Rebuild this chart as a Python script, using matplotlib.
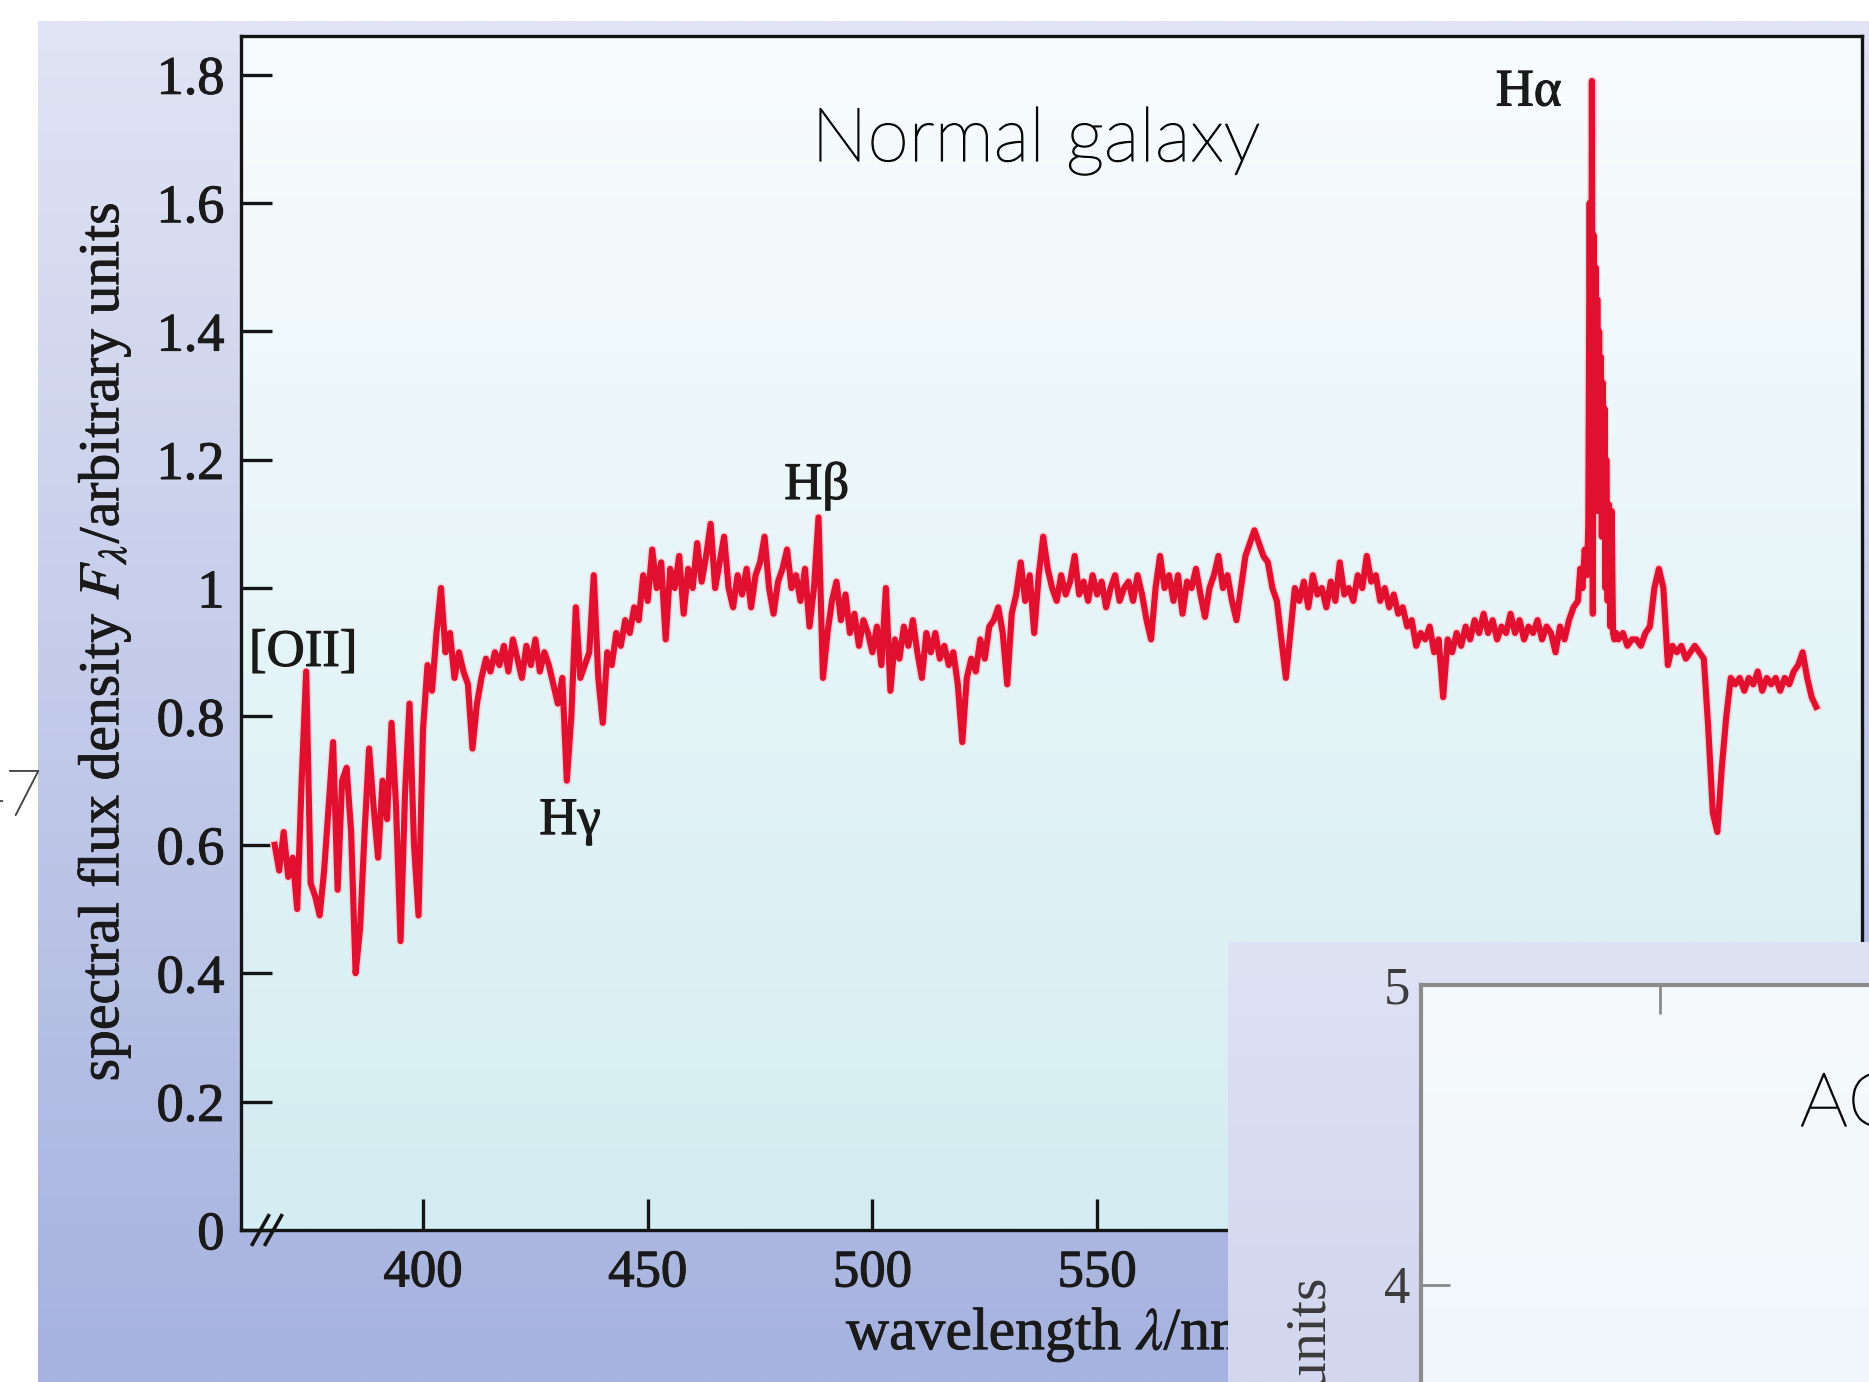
import numpy as np
import matplotlib
matplotlib.use("Agg")
import matplotlib.pyplot as plt
import matplotlib.patheffects as pe
from matplotlib.colors import to_rgb

# ---------------- data ----------------
# galaxy spectrum, 1 nm steps from 367 nm to 656 nm
wl_blue_start = 367
flux_blue = [
    0.60, 0.56, 0.62, 0.55, 0.58, 0.50, 0.70, 0.87, 0.54, 0.52,   # 367-376
    0.49, 0.56, 0.66, 0.76, 0.53, 0.70, 0.72, 0.62, 0.40, 0.47,   # 377-386
    0.62, 0.75, 0.66, 0.58, 0.70, 0.64, 0.79, 0.66, 0.45, 0.68,   # 387-396
    0.82, 0.60, 0.49, 0.78, 0.88, 0.84, 0.93, 1.00, 0.90, 0.93,   # 397-406
    0.86, 0.90, 0.87, 0.85, 0.75, 0.82, 0.86, 0.89, 0.87, 0.90,   # 407-416
    0.88, 0.91, 0.87, 0.92, 0.89, 0.86, 0.91, 0.88, 0.92, 0.87,   # 417-426
    0.90, 0.88, 0.85, 0.82, 0.86, 0.70, 0.80, 0.97, 0.86, 0.88,   # 427-436
    0.90, 1.02, 0.86, 0.79, 0.90, 0.88, 0.93, 0.91, 0.95, 0.93,   # 437-446
    0.97, 0.95, 1.02, 0.98, 1.06, 1.00, 1.04, 0.92, 1.03, 1.00,   # 447-456
    1.05, 0.96, 1.03, 1.00, 1.07, 1.01, 1.05, 1.10, 1.00, 1.04,   # 457-466
    1.08, 1.00, 0.97, 1.02, 0.99, 1.03, 0.97, 1.02, 1.04, 1.08,   # 467-476
    1.00, 0.96, 1.01, 1.03, 1.06, 1.00, 1.02, 0.98, 1.03, 0.94,   # 477-486
    1.00, 1.11, 0.86, 0.93, 0.98, 1.01, 0.95, 0.99, 0.93, 0.96,   # 487-496
    0.91, 0.95, 0.93, 0.90, 0.94, 0.88, 1.00, 0.84, 0.92, 0.89,   # 497-506
    0.94, 0.91, 0.95, 0.90, 0.86, 0.93, 0.90, 0.93, 0.89, 0.91,   # 507-516
    0.88, 0.90, 0.85, 0.76, 0.86, 0.89, 0.87, 0.92, 0.89, 0.94,   # 517-526
    0.95, 0.97, 0.93, 0.85, 0.96, 0.99, 1.04, 0.98, 1.02, 0.93,   # 527-536
    1.02, 1.08, 1.03, 1.00, 0.98, 1.02, 0.99, 1.01, 1.05, 0.99,   # 537-546
    1.01, 0.98, 1.02, 0.99, 1.01, 0.97, 1.00, 1.02, 0.98, 1.00,   # 547-556
    1.01, 0.98, 1.02, 0.99, 0.95, 0.92, 1.00, 1.05, 1.00, 1.02,   # 557-566
    0.98, 1.02, 0.96, 1.01, 1.00, 1.03, 0.99, 0.955, 1.00, 1.02,  # 567-576
    1.05, 1.00, 1.02, 0.98, 0.95, 1.00, 1.05, 1.07, 1.09, 1.07,   # 577-586
    1.05, 1.04, 1.00, 0.98, 0.92, 0.86, 0.93, 1.00, 0.98, 1.01,   # 587-596
    0.97, 1.02, 0.99, 1.00, 0.97, 1.01, 0.98, 1.04, 0.99, 1.00,   # 597-606
    0.98, 1.02, 1.00, 1.05, 1.01, 1.02, 0.98, 1.00, 0.97, 0.99,   # 607-616
    0.96, 0.97, 0.94, 0.95, 0.91, 0.93, 0.92, 0.94, 0.90, 0.92,   # 617-626
    0.83, 0.92, 0.90, 0.93, 0.91, 0.94, 0.92, 0.95, 0.93, 0.96,   # 627-636
    0.93, 0.95, 0.92, 0.94, 0.93, 0.96, 0.93, 0.95, 0.92, 0.94,   # 637-646
    0.93, 0.95, 0.92, 0.94, 0.93, 0.90, 0.94, 0.92, 0.95, 0.97,   # 647-656
]

# H-alpha region (finer sampling)
wl_halpha = [657.0, 657.5, 658.0, 658.5, 659.0, 659.3, 659.6, 659.9, 660.1, 660.3,
             660.5, 660.7, 660.9, 661.1, 661.3, 661.5, 661.7, 661.9, 662.1, 662.3,
             662.5, 662.7, 662.9, 663.1, 663.3, 663.6, 663.9, 664.2, 664.5, 664.8,
             665.1, 665.5]
flux_halpha = [0.98, 1.03, 1.00, 1.06, 1.02, 1.10, 1.60, 1.08, 1.79, 0.96,
               1.55, 1.12, 1.50, 1.16, 1.45, 1.12, 1.40, 1.14, 1.36, 1.08,
               1.32, 1.10, 1.28, 1.00, 1.20, 0.98, 1.13, 0.94, 1.12, 0.93,
               0.92, 0.93]

# red end, 1 nm steps from 666 nm to 710 nm
wl_red_start = 666
flux_red = [
    0.92, 0.93, 0.91, 0.92, 0.92, 0.91, 0.93, 0.94, 1.00, 1.03,   # 666-675
    1.00, 0.88, 0.91, 0.90, 0.91, 0.89, 0.90, 0.91, 0.90, 0.89,   # 676-685
    0.78, 0.65, 0.62, 0.72, 0.80, 0.86, 0.85, 0.86, 0.84, 0.86,   # 686-695
    0.85, 0.87, 0.84, 0.86, 0.85, 0.86, 0.84, 0.86, 0.85, 0.87,   # 696-705
    0.88, 0.90, 0.86, 0.83, 0.815,                                 # 706-710
]

x_ticks = [400, 450, 500, 550, 600, 650, 700]
x_tick_labels = ["400", "450", "500", "550", "600", "650", "700"]
y_ticks = [0, 0.2, 0.4, 0.6, 0.8, 1.0, 1.2, 1.4, 1.6, 1.8]
y_tick_labels = ["0", "0.2", "0.4", "0.6", "0.8", "1", "1.2", "1.4", "1.6", "1.8"]

line_labels = ["[OII]", "H\u03b3", "H\u03b2", "H\u03b1"]
line_label_wl = [373.3, 432.7, 487.6, 646.0]
line_label_y = [0.899, 0.637, 1.159, 1.772]

agn_y_ticks = [4, 5]
agn_y_tick_labels = ["4", "5"]
agn_x_ticks = [500]

# ---------------- figure ----------------
W, H, DPI = 1869, 1382, 100
plt.rcParams["mathtext.fontset"] = "stix"
SERIF = ["Liberation Serif", "DejaVu Serif"]
SANS = ["Lato", "DejaVu Sans"]

fig = plt.figure(figsize=(W / DPI, H / DPI), dpi=DPI)
fig.patch.set_facecolor("white")


def fx(px):
    return px / W


def fy(py):
    return 1 - py / H


def vgrad(c_top, c_bot, n=256):
    t = np.linspace(0, 1, n)[:, None, None]
    a = np.array(to_rgb(c_top))[None, None, :]
    b = np.array(to_rgb(c_bot))[None, None, :]
    return a * (1 - t) + b * t


def bolder(color, w=0.7):
    return [pe.withStroke(linewidth=w, foreground=color)]


# slide picture panel background
bg = fig.add_axes([0, 0, 1, 1], zorder=0)
bg.axis("off")
bg.imshow(vgrad("#e1e4f4", "#a6b2df"), extent=(38, W, H, 21), aspect="auto",
          interpolation="bilinear")
bg.set_xlim(0, W)
bg.set_ylim(H, 0)

fig.text(fx(42), fy(798), "47", ha="right", va="center", fontsize=46,
         color="#4a4a4a", family=SANS, fontweight="light", zorder=0.5,
         path_effects=bolder("#4a4a4a", 0.8))

# main axes
ax = fig.add_axes([fx(241), fy(1230), fx(1862) - fx(241), fy(36) - fy(1230)], zorder=1)
ax.imshow(vgrad("#f9fcfd", "#d3edf2"), extent=(0, 1, 0, 1), transform=ax.transAxes,
          aspect="auto", interpolation="bilinear", zorder=0)

wl = np.concatenate([np.arange(wl_blue_start, wl_blue_start + len(flux_blue)),
                     np.array(wl_halpha),
                     np.arange(wl_red_start, wl_red_start + len(flux_red))])
flux = np.concatenate([flux_blue, flux_halpha, flux_red])

ax.plot(wl, flux, color="#f7d3db", lw=6.5, solid_joinstyle="round", zorder=2)
ax.plot(wl, flux, color="#e0102e", lw=4.4, solid_joinstyle="round", zorder=3)

ax.set_xlim(359.5, 720.2)
ax.set_ylim(0, 1.86)
ax.set_aspect("auto")

ax.set_xticks(x_ticks)
ax.set_xticklabels(x_tick_labels, fontsize=38, family=SERIF, color="#1a1a1a")
ax.set_yticks(y_ticks)
ax.set_yticklabels(y_tick_labels, fontsize=39, family=SERIF, color="#1a1a1a")
for t in ax.get_xticklabels() + ax.get_yticklabels():
    t.set_path_effects(bolder("#1a1a1a", 0.8))
ax.tick_params(axis="both", direction="in", length=22, width=2.4, color="#151515")
ax.tick_params(axis="x", pad=14)
ax.tick_params(axis="y", pad=12)
for s in ax.spines.values():
    s.set_linewidth(2.4)
    s.set_color("#151515")

# axis-break marks
for x0 in (0.007, 0.015):
    ax.plot([x0, x0 + 0.010], [-0.012, 0.012], transform=ax.transAxes,
            clip_on=False, color="#151515", lw=2.6, zorder=5)

for lab, lx, ly in zip(line_labels, line_label_wl, line_label_y):
    ax.text(lx, ly, lab, ha="center", va="center", fontsize=38, family=SERIF,
            color="#1a1a1a", zorder=4, path_effects=bolder("#1a1a1a", 0.8))

fig.text(fx(104), fy(642), r"spectral flux density $F_\lambda$/arbitrary units",
         rotation=90, ha="center", va="center", fontsize=41.5, family=SERIF,
         color="#1a1a1a", zorder=2, path_effects=bolder("#1a1a1a", 0.6))
fig.text(fx(846), fy(1335), r"wavelength $\lambda$/nm", ha="left", va="center",
         fontsize=43, family=SERIF, color="#1a1a1a", zorder=2,
         path_effects=bolder("#1a1a1a", 0.6))
fig.text(fx(1036), fy(161), "Normal galaxy", ha="center", va="baseline",
         fontsize=54, family=SANS, fontweight="light", color="#0a0a0a", zorder=2,
         path_effects=bolder("#0a0a0a", 1.0))

# overlapping AGN picture
agn_bg = fig.add_axes([0, 0, 1, 1], zorder=5)
agn_bg.axis("off")
agn_bg.imshow(vgrad("#dfe2f3", "#d2d6ee"), extent=(1228, W, H, 942), aspect="auto",
              interpolation="bilinear")
agn_bg.set_xlim(0, W)
agn_bg.set_ylim(H, 0)

agn_bottom_px = 1520
agn = fig.add_axes([fx(1421), fy(agn_bottom_px), (W * 1.05 - 1421) / W,
                    fy(985) - fy(agn_bottom_px)], zorder=6)
agn.imshow(vgrad("#f6fafc", "#eef5f9"), extent=(0, 1, 0, 1), transform=agn.transAxes,
           aspect="auto", interpolation="bilinear", zorder=0)
agn.set_xlim(350, 690)
agn.set_ylim(5 - (agn_bottom_px - 985) / 300.0, 5)
agn.set_yticks(agn_y_ticks)
agn.set_yticklabels(agn_y_tick_labels, fontsize=38, family=SERIF, color="#3c3c3c")
agn.xaxis.tick_top()
agn.set_xticks(agn_x_ticks)
agn.set_xticklabels([])
agn.tick_params(axis="both", direction="in", length=21, width=2.0, color="#8a8a8a")
agn.tick_params(axis="y", pad=8)
for s in agn.spines.values():
    s.set_linewidth(3.0)
    s.set_color("#8c8c8c")

fig.text(fx(1800), fy(1126), "AGN", ha="left", va="baseline", fontsize=54,
         family=SANS, fontweight="light", color="#0a0a0a", zorder=7,
         path_effects=bolder("#0a0a0a", 1.0))
fig.text(fx(1311), fy(1278), r"spectral flux density $F_\lambda$/arbitrary units",
         rotation=90, ha="center", va="top", fontsize=41.5, family=SERIF,
         color="#3a3a3a", zorder=7)

fig.savefig("out.png", dpi=DPI)
